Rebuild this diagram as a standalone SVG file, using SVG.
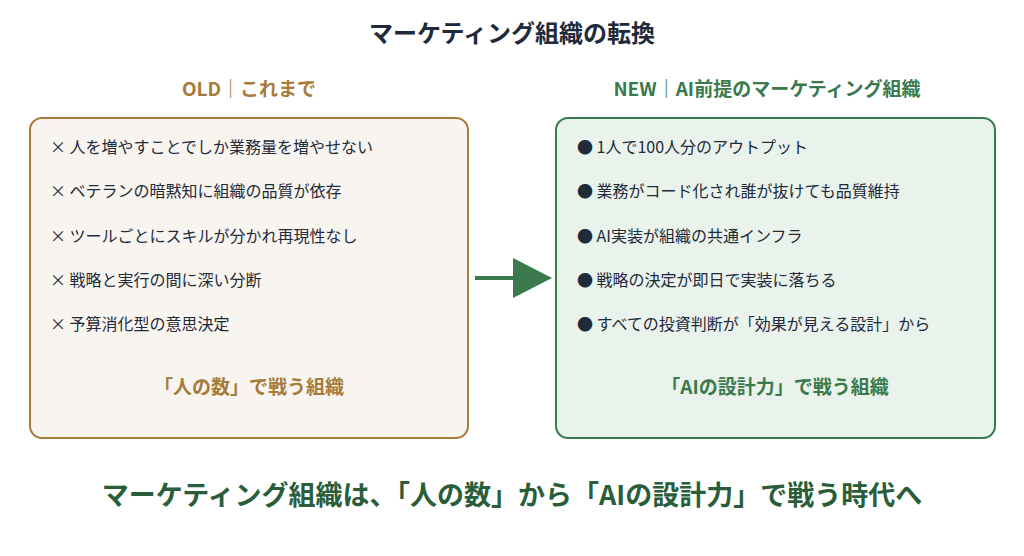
<svg xmlns="http://www.w3.org/2000/svg" width="1024" height="556" viewBox="0 0 1024 556">
<style>
text{font-family:"Noto Sans CJK JP","Noto Sans",sans-serif}
.t{font-size:24px;font-weight:700;fill:#1f2a3a;text-anchor:middle}
.h{font-size:19px;font-weight:700;text-anchor:middle}
.i{font-size:16px;fill:#1f2a3a}
.f{font-size:19px;font-weight:700;text-anchor:middle}
.gold{fill:#a77b3a}.grn{fill:#3a7a4c}
</style>
<rect width="1024" height="556" fill="#fff"/>
<text class="t" x="512" y="42">マーケティング組織の転換</text>
<g id="old">
<text class="h gold" x="249" y="96">OLD｜これまで</text>
<rect x="30" y="118" width="438" height="320" rx="12" fill="#f8f5f0" stroke="#a77b3a" stroke-width="2"/>
<text class="i" x="50" y="153">× 人を増やすことでしか業務量を増やせない</text>
<text class="i" x="50" y="197">× ベテランの暗黙知に組織の品質が依存</text>
<text class="i" x="50" y="242">× ツールごとにスキルが分かれ再現性なし</text>
<text class="i" x="50" y="286">× 戦略と実行の間に深い分断</text>
<text class="i" x="50" y="330">× 予算消化型の意思決定</text>
<text class="f gold" x="249" y="394">「人の数」で戦う組織</text>
</g>
<g id="new">
<text class="h grn" x="767" y="96">NEW｜AI前提のマーケティング組織</text>
<rect x="556" y="118" width="439" height="320" rx="12" fill="#e9f2eb" stroke="#3a7a4c" stroke-width="2"/>
<text class="i" x="577" y="153">● 1人で100人分のアウトプット</text>
<text class="i" x="577" y="197">● 業務がコード化され誰が抜けても品質維持</text>
<text class="i" x="577" y="242">● AI実装が組織の共通インフラ</text>
<text class="i" x="577" y="286">● 戦略の決定が即日で実装に落ちる</text>
<text class="i" x="577" y="330">● すべての投資判断が「効果が見える設計」から</text>
<text class="f grn" x="775" y="394">「AIの設計力」で戦う組織</text>
</g>
<g id="connectors">
<line x1="475" y1="278" x2="515" y2="278" stroke="#3a7a4c" stroke-width="4"/>
<polygon points="513,258 552,278 513,298" fill="#3a7a4c"/>
</g>
<text x="512" y="505" font-size="27" font-weight="700" fill="#2a5e3a" text-anchor="middle">マーケティング組織は、「人の数」から「AIの設計力」で戦う時代へ</text>
</svg>
